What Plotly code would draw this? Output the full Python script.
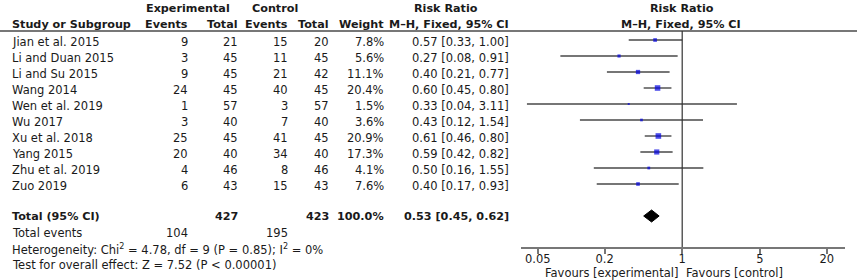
import math
import plotly.graph_objects as go

# ---------------- data ----------------
studies = ["Jian et al. 2015", "Li and Duan 2015", "Li and Su 2015", "Wang 2014",
           "Wen et al. 2019", "Wu 2017", "Xu et al. 2018", "Yang 2015",
           "Zhu et al. 2019", "Zuo 2019"]
exp_events = [9, 3, 9, 24, 1, 3, 25, 20, 4, 6]
exp_total = [21, 45, 45, 45, 57, 40, 45, 40, 46, 43]
ctl_events = [15, 11, 21, 40, 3, 7, 41, 34, 8, 15]
ctl_total = [20, 45, 42, 45, 57, 40, 45, 40, 46, 43]
weights = [7.8, 5.6, 11.1, 20.4, 1.5, 3.6, 20.9, 17.3, 4.1, 7.6]
rr = [0.57, 0.27, 0.40, 0.60, 0.33, 0.43, 0.61, 0.59, 0.50, 0.40]
rr_lo = [0.33, 0.08, 0.21, 0.45, 0.04, 0.12, 0.46, 0.42, 0.16, 0.17]
rr_hi = [1.00, 0.91, 0.77, 0.80, 3.11, 1.54, 0.80, 0.82, 1.55, 0.93]

total_exp_n = 427
total_ctl_n = 423
total_weight = 100.0
pooled = [0.53, 0.45, 0.62]          # RR, lower, upper
total_exp_events = 104
total_ctl_events = 195
het_chi2, het_df, het_p, het_i2 = 4.78, 9, 0.85, 0
overall_z = 7.52

tick_vals = [0.05, 0.2, 1, 5, 20]
tick_text = ["0.05", "0.2", "1", "5", "20"]

# ---------------- layout helpers ----------------
W, H = 858, 280
FONT = "DejaVu Sans"
FS = 11.5
TXT = "#1a1a1a"
GRAY = "#777777"


def px(x):
    return x / W


def py(y):
    return 1 - y / H


# axis geometry (pixels)
ax_x0, ax_x1 = 521, 845
tick_lo_px, tick_hi_px = 537.7, 826.7
k = (tick_hi_px - tick_lo_px) / (math.log10(20) - math.log10(0.05))
xr = [math.log10(0.05) - (tick_lo_px - ax_x0) / k,
      math.log10(20) + (ax_x1 - tick_hi_px) / k]
axis_y = 247
row0, row_h = 40, 16
yr = [(axis_y - row0) / row_h, -row0 / row_h]
total_row = 11

fig = go.Figure()

# CI lines
lx, ly = [], []
for i in range(len(studies)):
    lx += [rr_lo[i], rr_hi[i], None]
    ly += [i, i, None]
fig.add_trace(go.Scatter(x=lx, y=ly, mode="lines",
                         line=dict(color="#484848", width=1.4),
                         hoverinfo="skip", cliponaxis=False))

# weighted squares
fig.add_trace(go.Scatter(
    x=rr, y=list(range(len(studies))), mode="markers",
    marker=dict(symbol="square", color="#0000e0",
                size=[1.1 * math.sqrt(w) + 0.6 for w in weights],
                line=dict(width=0)),
    hoverinfo="skip"))

# pooled diamond
dh = 6 / row_h
fig.add_trace(go.Scatter(
    x=[pooled[1], pooled[0], pooled[2], pooled[0], pooled[1]],
    y=[total_row, total_row - dh, total_row, total_row + dh, total_row],
    mode="lines", fill="toself", fillcolor="black",
    line=dict(color="black", width=1), hoverinfo="skip"))

shapes = [
    dict(type="line", xref="paper", yref="paper", x0=0, x1=px(857),
         y0=py(31), y1=py(31), line=dict(color=GRAY, width=2)),
    dict(type="line", xref="x", yref="paper", x0=1, x1=1,
         y0=py(31), y1=py(axis_y), line=dict(color="#333333", width=1.2)),
]

ann = []


def txt(x, y, s, anchor="left", bold=False, size=FS):
    ann.append(dict(x=px(x), y=py(y), xref="paper", yref="paper",
                    text=f"<b>{s}</b>" if bold else s, showarrow=False,
                    xanchor=anchor, yanchor="middle",
                    font=dict(family=FONT, size=size, color=TXT),
                    borderpad=0, borderwidth=0))


BS = 11.2
# headers
txt(188, 8, "Experimental", "center", True, BS)
txt(275, 8, "Control", "center", True, BS)
txt(446, 8, "Risk Ratio", "center", True, BS)
txt(682, 8, "Risk Ratio", "center", True, BS)
txt(12, 24, "Study or Subgroup", "left", True, BS)
txt(188, 24, "Events", "right", True, BS)
txt(238, 24, "Total", "right", True, BS)
txt(288, 24, "Events", "right", True, BS)
txt(329, 24, "Total", "right", True, BS)
txt(384, 24, "Weight", "right", True, BS)
txt(509, 24, "M\u2013H, Fixed, 95% CI", "right", True, BS)
txt(681, 24, "M\u2013H, Fixed, 95% CI", "center", True, BS)

# study rows
for i, s in enumerate(studies):
    y = 42 + row_h * i
    txt(12, y, s)
    txt(188, y, str(exp_events[i]), "right")
    txt(238, y, str(exp_total[i]), "right")
    txt(288, y, str(ctl_events[i]), "right")
    txt(329, y, str(ctl_total[i]), "right")
    txt(384, y, f"{weights[i]:.1f}%", "right")
    txt(509, y, f"{rr[i]:.2f} [{rr_lo[i]:.2f}, {rr_hi[i]:.2f}]", "right")

# total row
txt(12, 216, "Total (95% CI)", "left", True, BS)
txt(238, 216, str(total_exp_n), "right", True, BS)
txt(329, 216, str(total_ctl_n), "right", True, BS)
txt(384, 216, f"{total_weight:.1f}%", "right", True, BS)
txt(509, 216, f"{pooled[0]:.2f} [{pooled[1]:.2f}, {pooled[2]:.2f}]", "right", True, BS)

txt(12, 233, "Total events")
txt(188, 233, str(total_exp_events), "right")
txt(288, 233, str(total_ctl_events), "right")
txt(12, 249, f"Heterogeneity: Chi<sup>2</sup> = {het_chi2:.2f}, df = {het_df} "
             f"(P = {het_p:.2f}); I<sup>2</sup> = {het_i2}%")
txt(12, 265, f"Test for overall effect: Z = {overall_z:.2f} (P < 0.00001)")

# favours labels
txt(678, 273, "Favours [experimental]", "right")
txt(686, 273, "Favours [control]", "left")

fig.update_layout(
    width=W, height=H, margin=dict(l=0, r=0, t=0, b=0),
    paper_bgcolor="white", plot_bgcolor="white", showlegend=False,
    shapes=shapes, annotations=ann,
    xaxis=dict(type="log", range=xr, domain=[px(ax_x0), px(ax_x1)],
               tickvals=tick_vals, ticktext=tick_text, ticks="outside",
               ticklen=5, tickwidth=1.5, tickcolor=GRAY,
               ticklabelstandoff=-5,
               showline=True, linecolor=GRAY, linewidth=2,
               showgrid=False, zeroline=False,
               tickfont=dict(family=FONT, size=FS, color=TXT)),
    yaxis=dict(range=yr, domain=[py(axis_y), 1], visible=False,
               showgrid=False, zeroline=False),
)

fig.write_html("out.html",
               config={"displayModeBar": False},
               post_script="document.body.style.margin='0';"
                           "document.body.style.padding='0';")
